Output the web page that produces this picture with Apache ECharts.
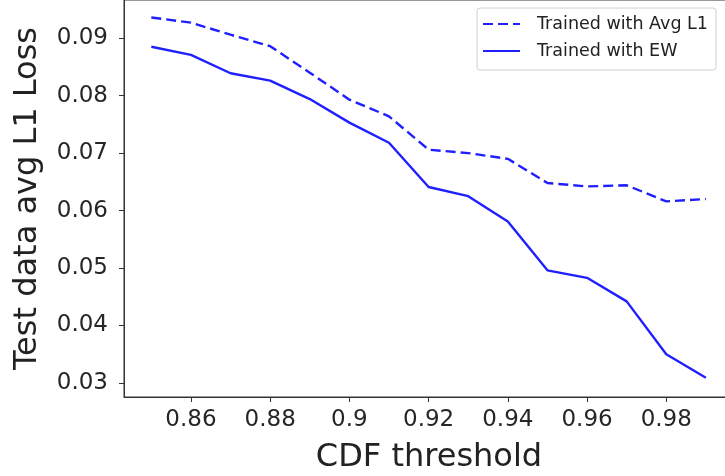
<!DOCTYPE html>
<html>
<head>
<meta charset="utf-8">
<script src="https://cdn.jsdelivr.net/npm/echarts@6/dist/echarts.min.js"></script>
<style>
  html, body { margin: 0; padding: 0; background: #fff; }
  #chart { width: 725px; height: 476px; }
</style>
</head>
<body>
<div id="chart"></div>
<script>
// CDF thresholds on the x axis
const thresholds = [0.85, 0.86, 0.87, 0.88, 0.89, 0.90, 0.91, 0.92, 0.93, 0.94, 0.95, 0.96, 0.97, 0.98, 0.99];

// test loss per threshold
const avgL1Loss = [0.0936, 0.0927, 0.0906, 0.0886, 0.0840, 0.0793, 0.0764, 0.0706, 0.0700, 0.0690, 0.0648, 0.0642, 0.0644, 0.0616, 0.0620];
const ewLoss = [0.0885, 0.0871, 0.0839, 0.0826, 0.0794, 0.0753, 0.0718, 0.0641, 0.0625, 0.0581, 0.0496, 0.0483, 0.0442, 0.0350, 0.0309];

const xTicks = [0.86, 0.88, 0.90, 0.92, 0.94, 0.96, 0.98];
const yTicks = [0.03, 0.04, 0.05, 0.06, 0.07, 0.08, 0.09];

const seriesNames = ['Trained with Avg L1', 'Trained with EW'];

const chart = echarts.init(document.getElementById('chart'), null, { renderer: 'canvas' });

const font = 'DejaVu Sans';
const lineColor = '#1f1fff';

function fmt(v) {
  return String(+v.toFixed(2));
}

function pairs(ys) {
  return thresholds.map((x, i) => [x, ys[i]]);
}

const option = {
  animation: false,
  grid: {
    left: 124,
    right: -9,
    top: 0,
    bottom: 79,
    show: true,
    borderColor: '#333',
    borderWidth: 1,
    outerBoundsMode: 'none'
  },
  legend: {
    left: 477,
    top: 8,
    orient: 'vertical',
    itemGap: 7,
    itemWidth: 37,
    itemHeight: 14,
    padding: [6, 8, 9, 5],
    borderColor: '#d0d0d0',
    borderWidth: 1,
    borderRadius: 3,
    // hide the marker dot, keep only the line sample
    itemStyle: { opacity: 0, borderWidth: 0 },
    textStyle: { fontFamily: font, fontSize: 17.5, lineHeight: 20, color: '#222', padding: [0, 0, 0, 12] },
    data: seriesNames
  },
  xAxis: {
    type: 'value',
    min: 0.8431,
    max: 0.9971,
    name: 'CDF threshold',
    nameLocation: 'middle',
    nameGap: 45,
    nameTextStyle: { fontFamily: font, fontSize: 32, color: '#222' },
    axisLine: { show: true, lineStyle: { color: '#333' } },
    axisTick: { show: true, length: 5, customValues: xTicks, lineStyle: { color: '#333' } },
    axisLabel: {
      customValues: xTicks,
      fontFamily: font, fontSize: 23, color: '#262626', margin: 12,
      formatter: fmt
    },
    splitLine: { show: false }
  },
  yAxis: {
    type: 'value',
    min: 0.02756,
    max: 0.09664,
    name: 'Test data avg L1 Loss',
    nameLocation: 'middle',
    nameGap: 80,
    nameTextStyle: { fontFamily: font, fontSize: 32, color: '#222' },
    axisLine: { show: true, lineStyle: { color: '#333' } },
    axisTick: { show: true, length: 5, customValues: yTicks, lineStyle: { color: '#333' } },
    axisLabel: {
      customValues: yTicks,
      fontFamily: font, fontSize: 23, color: '#262626', margin: 16,
      formatter: fmt
    },
    splitLine: { show: false }
  },
  series: [
    {
      name: seriesNames[0],
      type: 'line',
      data: pairs(avgL1Loss),
      symbol: 'none',
      color: lineColor,
      lineStyle: { width: 2.4, type: [10, 5], color: lineColor }
    },
    {
      name: seriesNames[1],
      type: 'line',
      data: pairs(ewLoss),
      symbol: 'none',
      color: lineColor,
      lineStyle: { width: 2.4, type: 'solid', color: lineColor }
    }
  ]
};

chart.setOption(option);
</script>
</body>
</html>
